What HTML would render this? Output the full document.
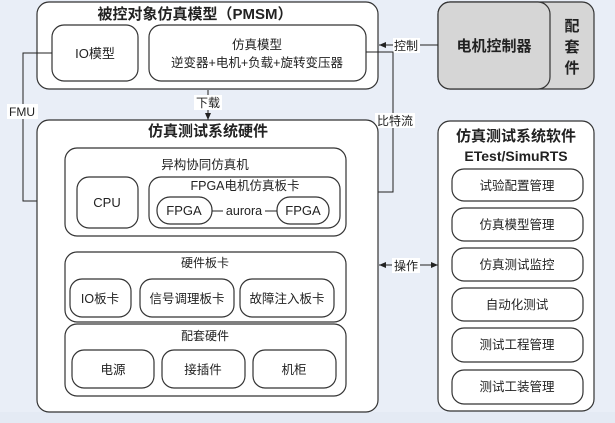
<!DOCTYPE html>
<html><head><meta charset="utf-8"><style>
html,body{margin:0;padding:0;background:#e9eef7;}
svg{display:block;}
text{font-family:"Liberation Sans","Noto Sans CJK SC",sans-serif;fill:#222;}
.b{fill:#fff;stroke:#333;stroke-width:1.2;}
.l{stroke:#222;stroke-width:1;fill:none;}
</style></head><body>
<svg width="615" height="423" viewBox="0 0 615 423">
<defs><marker id="a" markerWidth="8" markerHeight="8" refX="7" refY="4" orient="auto" markerUnits="userSpaceOnUse"><path d="M0,1 L7,4 L0,7z" fill="#222"/></marker></defs>
<rect x="0" y="412" width="615" height="11" fill="#e4eaf4"/>
<!-- top box -->
<rect class="b" x="37" y="2" width="341" height="87" rx="12"/>
<text x="195" y="19" font-size="15" font-weight="bold" text-anchor="middle">被控对象仿真模型（PMSM）</text>
<rect class="b" x="52" y="25" width="86" height="56" rx="12"/>
<text x="95" y="58" font-size="13" text-anchor="middle">IO模型</text>
<rect class="b" x="149" y="25" width="217" height="56" rx="12"/>
<text x="257" y="49" font-size="12.5" text-anchor="middle">仿真模型</text>
<text x="257" y="67" font-size="12.5" text-anchor="middle">逆变器+电机+负载+旋转变压器</text>
<!-- controller -->
<rect x="438" y="2" width="156" height="87" rx="12" fill="#d6d6d6" stroke="#333" stroke-width="1.2"/>
<rect x="438" y="2" width="112" height="87" rx="12" fill="#d6d6d6" stroke="#333" stroke-width="1.2"/>
<text x="494" y="51" font-size="15" font-weight="bold" text-anchor="middle">电机控制器</text>
<text x="572" y="31" font-size="15" font-weight="bold" text-anchor="middle">配</text>
<text x="572" y="52" font-size="15" font-weight="bold" text-anchor="middle">套</text>
<text x="572" y="73" font-size="15" font-weight="bold" text-anchor="middle">件</text>
<!-- control arrow -->
<line class="l" x1="438" y1="45" x2="379" y2="45" marker-end="url(#a)"/>
<rect x="393" y="38" width="27" height="15" fill="#fff"/>
<text x="406" y="50" font-size="12" text-anchor="middle">控制</text>
<!-- bitstream -->
<polyline class="l" points="366,52 393,52 393,192 348,192" marker-end="url(#a)"/>
<rect x="375" y="113" width="40" height="15" fill="#fff"/>
<text x="395" y="125" font-size="12" text-anchor="middle">比特流</text>
<!-- download -->
<line class="l" x1="208" y1="90" x2="208" y2="120" marker-end="url(#a)"/>
<rect x="194" y="95" width="28" height="15" fill="#fff"/>
<text x="208" y="107" font-size="12" text-anchor="middle">下载</text>
<!-- FMU -->
<polyline class="l" points="52,53 23,53 23,201 76,201" marker-end="url(#a)"/>
<rect x="7" y="104" width="31" height="15" fill="#fff"/>
<text x="22" y="116" font-size="12" text-anchor="middle">FMU</text>
<!-- hardware -->
<rect class="b" x="37" y="120" width="341" height="292" rx="12"/>
<text x="208" y="136" font-size="15" font-weight="bold" text-anchor="middle">仿真测试系统硬件</text>
<rect class="b" x="65" y="148" width="281" height="88" rx="12"/>
<text x="205" y="169" font-size="12.5" text-anchor="middle">异构协同仿真机</text>
<rect class="b" x="77" y="177" width="61" height="51" rx="12"/>
<text x="107" y="207" font-size="13" text-anchor="middle">CPU</text>
<rect class="b" x="149" y="177" width="191" height="51" rx="12"/>
<text x="245" y="190" font-size="12.5" text-anchor="middle">FPGA电机仿真板卡</text>
<rect class="b" x="157" y="197" width="55" height="27" rx="13"/>
<text x="184" y="215" font-size="13" text-anchor="middle">FPGA</text>
<rect class="b" x="277" y="197" width="52" height="27" rx="13"/>
<text x="303" y="215" font-size="13" text-anchor="middle">FPGA</text>
<line class="l" x1="212" y1="211" x2="277" y2="211"/>
<rect x="223" y="203" width="42" height="15" fill="#fff"/>
<text x="244" y="215" font-size="12.5" text-anchor="middle">aurora</text>
<rect class="b" x="65" y="252" width="281" height="70" rx="12"/>
<text x="205" y="267" font-size="12" text-anchor="middle">硬件板卡</text>
<rect class="b" x="70" y="279" width="61" height="38" rx="12"/>
<text x="100" y="303" font-size="12.5" text-anchor="middle">IO板卡</text>
<rect class="b" x="140" y="279" width="94" height="38" rx="12"/>
<text x="187" y="303" font-size="12.5" text-anchor="middle">信号调理板卡</text>
<rect class="b" x="240" y="279" width="94" height="38" rx="12"/>
<text x="287" y="303" font-size="12.5" text-anchor="middle">故障注入板卡</text>
<rect class="b" x="65" y="324" width="281" height="72" rx="12"/>
<text x="205" y="340" font-size="12" text-anchor="middle">配套硬件</text>
<rect class="b" x="72" y="350" width="82" height="38" rx="12"/>
<text x="113" y="374" font-size="12.5" text-anchor="middle">电源</text>
<rect class="b" x="162" y="350" width="83" height="38" rx="12"/>
<text x="203" y="374" font-size="12.5" text-anchor="middle">接插件</text>
<rect class="b" x="253" y="350" width="83" height="38" rx="12"/>
<text x="294" y="374" font-size="12.5" text-anchor="middle">机柜</text>
<!-- operate -->
<line class="l" x1="410" y1="265" x2="379" y2="265" marker-end="url(#a)"/>
<line class="l" x1="410" y1="265" x2="438" y2="265" marker-end="url(#a)"/>
<rect x="392" y="258" width="28" height="15" fill="#fff"/>
<text x="406" y="270" font-size="12" text-anchor="middle">操作</text>
<!-- software -->
<rect class="b" x="438" y="121" width="156" height="290" rx="12"/>
<text x="516" y="141" font-size="15" font-weight="bold" text-anchor="middle">仿真测试系统软件</text>
<text x="516" y="161" font-size="14" font-weight="bold" text-anchor="middle">ETest/SimuRTS</text>
<g font-size="12.5">
<rect class="b" x="452" y="169" width="131" height="32" rx="12"/><text x="517" y="190" font-size="12.5" text-anchor="middle">试验配置管理</text>
<rect class="b" x="452" y="208" width="131" height="33" rx="12"/><text x="517" y="229" font-size="12.5" text-anchor="middle">仿真模型管理</text>
<rect class="b" x="452" y="248" width="131" height="33" rx="12"/><text x="517" y="269" font-size="12.5" text-anchor="middle">仿真测试监控</text>
<rect class="b" x="452" y="288" width="131" height="33" rx="12"/><text x="517" y="309" font-size="12.5" text-anchor="middle">自动化测试</text>
<rect class="b" x="452" y="328" width="131" height="34" rx="12"/><text x="517" y="349" font-size="12.5" text-anchor="middle">测试工程管理</text>
<rect class="b" x="452" y="370" width="131" height="34" rx="12"/><text x="517" y="391" font-size="12.5" text-anchor="middle">测试工装管理</text>
</g>
</svg>
</body></html>
